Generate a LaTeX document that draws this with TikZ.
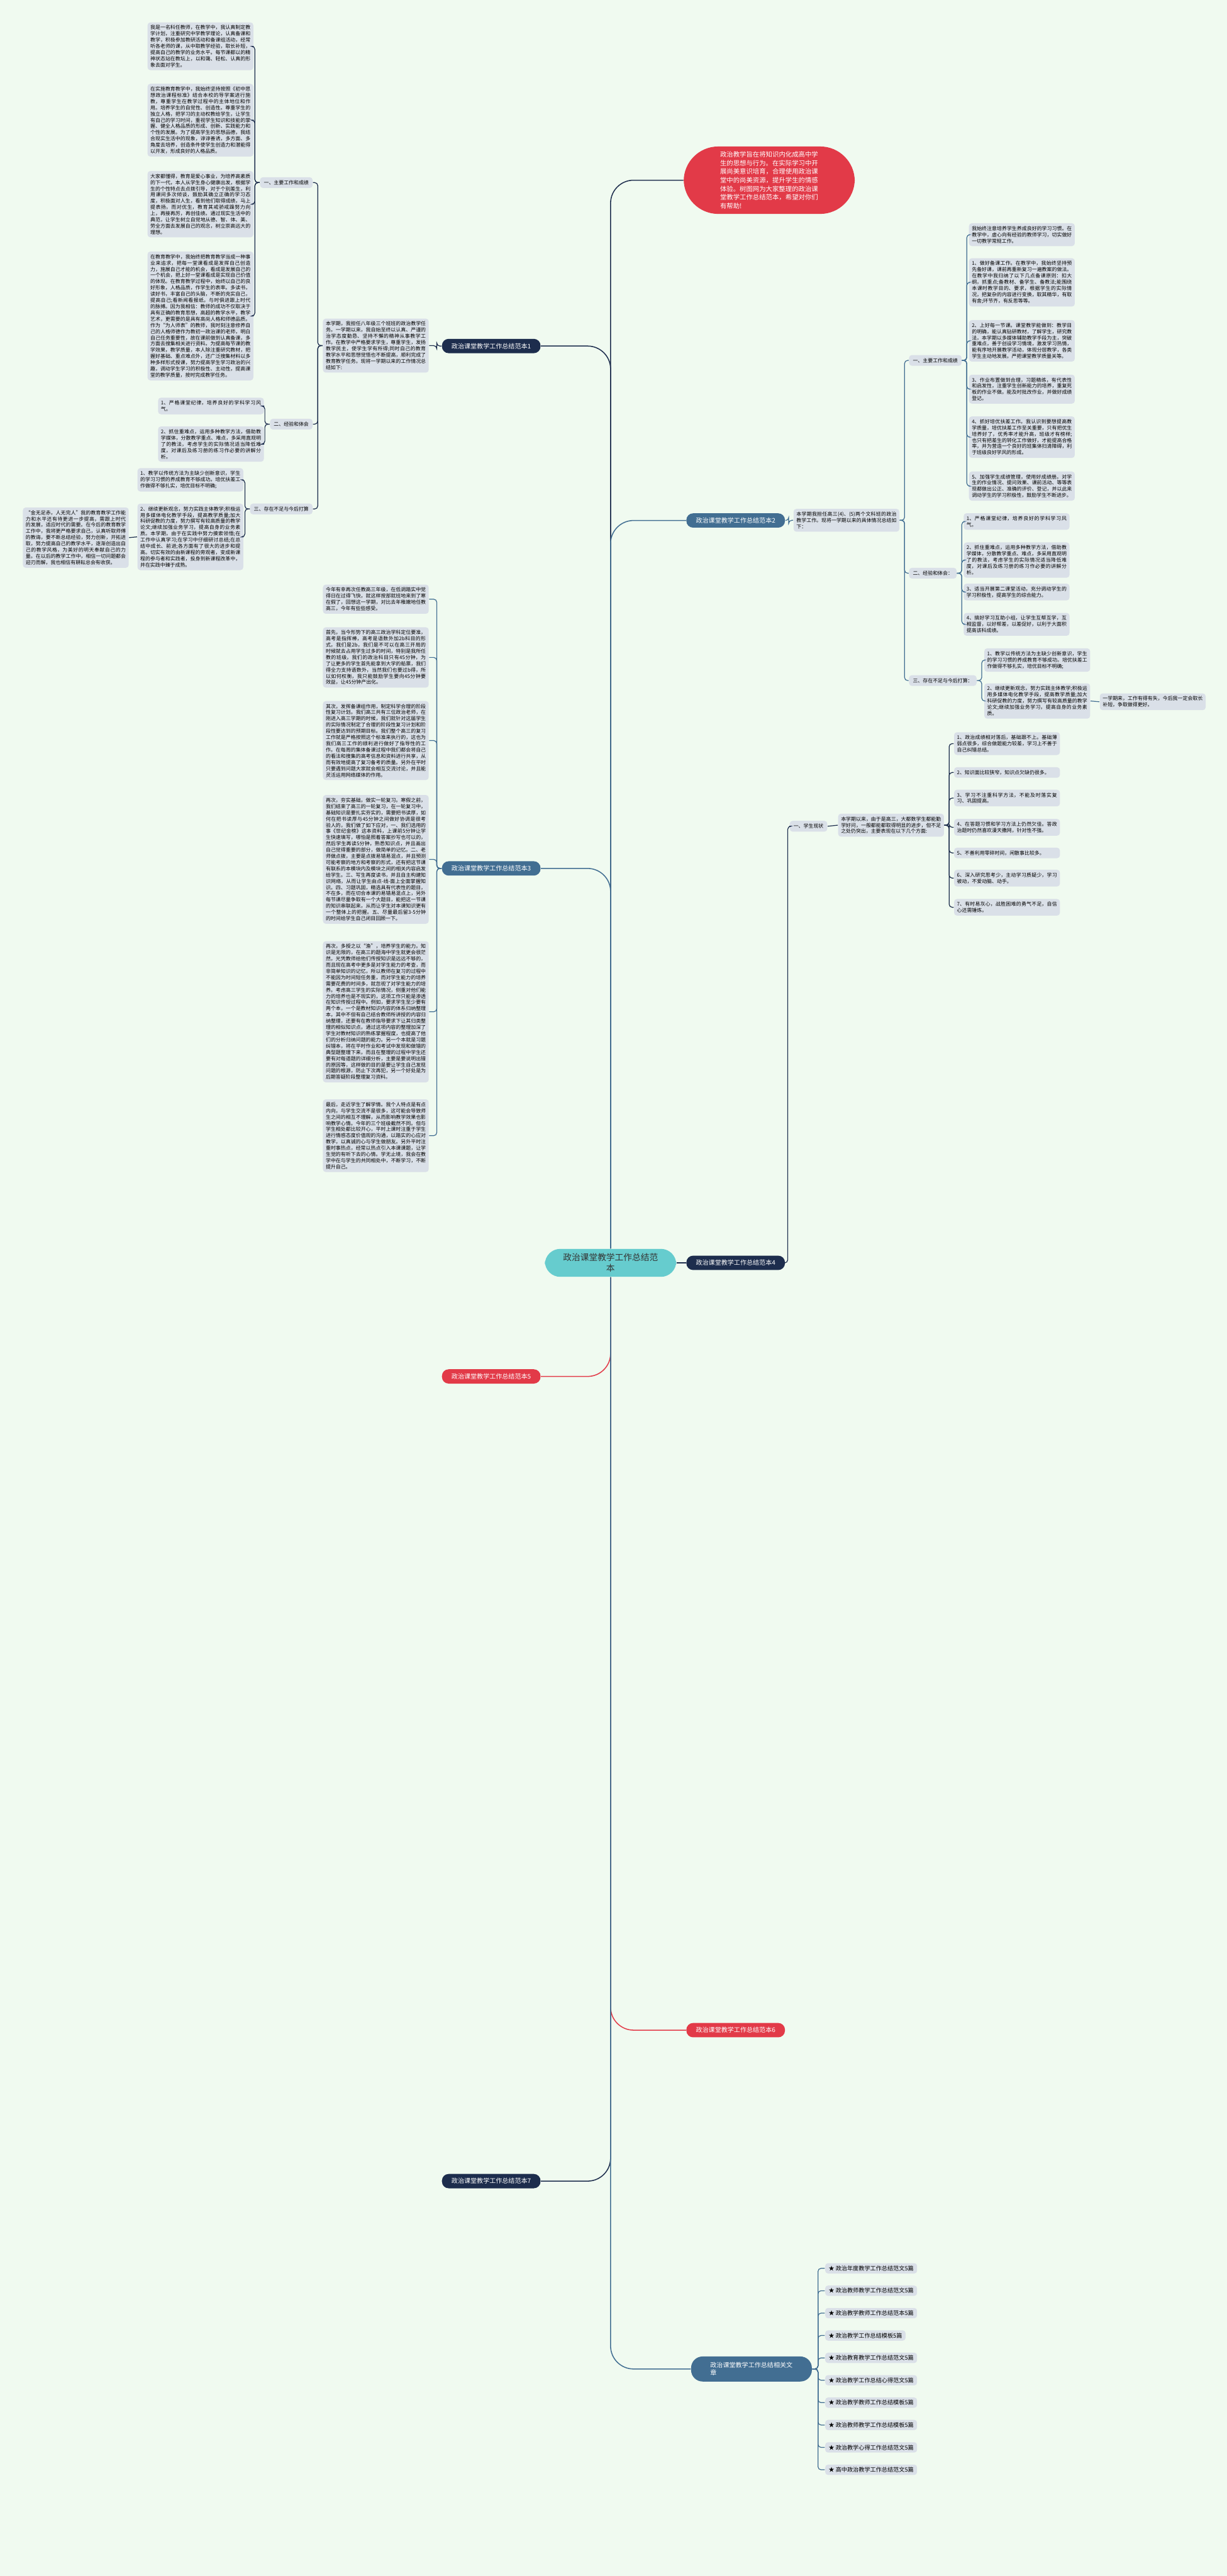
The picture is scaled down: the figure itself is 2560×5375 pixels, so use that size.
\documentclass[tikz,border=0pt]{standalone}
\usepackage{fontspec}
\setmainfont{Noto Sans CJK SC}
\XeTeXlinebreaklocale "zh"
\XeTeXlinebreakskip=0pt plus 0.4pt
\definecolor{PageGreen}{RGB}{240,250,240}
\definecolor{LeafGray}{RGB}{218,224,232}
\definecolor{NavyDark}{RGB}{29,45,77}
\definecolor{SteelBlue}{RGB}{66,110,146}
\definecolor{TealCore}{RGB}{102,204,206}
\definecolor{TitleRed}{RGB}{226,58,72}
\definecolor{PinkLeaf}{RGB}{250,216,220}

\tikzset{
  leaf/.style={anchor=north west, fill=LeafGray, rounded corners=1.5pt, inner xsep=1.5pt, inner ysep=1.5pt,
    text width=52.2pt, align=justify, font=\fontsize{2.6pt}{3.25pt}\selectfont},
  subnode/.style={fill=LeafGray, rounded corners=1.5pt, inner xsep=2pt, inner ysep=1.6pt,
    font=\fontsize{2.6pt}{3.25pt}\selectfont},
  branch/.style={fill=NavyDark, text=white, rounded corners=3.5pt, inner xsep=5pt, inner ysep=2.2pt,
    font=\fontsize{3.3pt}{4pt}\selectfont},
  link/.style={draw=NavyDark, line width=0.4pt, rounded corners=1.6pt},
  trunk/.style={line width=0.5pt, rounded corners=12pt}
}

\begin{document}
\begin{tikzpicture}[x=0.25pt, y=-0.25pt]
  \fill[PageGreen] (0,0) rectangle (2560,5375);
  \useasboundingbox (0,0) rectangle (2560,5375);

  % centre and intro
  \node[fill=TealCore, rounded corners=8pt, inner xsep=9.5pt, inner ysep=2.4pt, align=center,
    font=\fontsize{4.5pt}{5.6pt}\selectfont, text=black!80] (ctr) at (1274,2635) {政治课堂教学工作总结范\\本};
  \node[fill=TitleRed, text=white, rounded corners=18pt, inner xsep=19pt, inner ysep=2.5pt,
    text width=51.2pt, align=left, font=\fontsize{3.4pt}{4.5pt}\selectfont] (intro) at (1605,376)
    {政治教学旨在将知识内化成高中学生的思想与行为。在实际学习中开展尚美意识培育，合理使用政治课堂中的尚美资源，提升学生的情感体验。树图网为大家整理的政治课堂教学工作总结范本，希望对你们有帮助!};

  % branches
  \node[branch] (b1) at (1025,722) {政治课堂教学工作总结范本1};
  \node[branch, fill=SteelBlue] (b2) at (1535,1086) {政治课堂教学工作总结范本2};
  \node[branch, fill=SteelBlue] (b3) at (1025,1812) {政治课堂教学工作总结范本3};
  \node[branch] (b4) at (1535,2635) {政治课堂教学工作总结范本4};
  \node[branch, fill=TitleRed] (b5) at (1025,2872) {政治课堂教学工作总结范本5};
  \node[branch, fill=TitleRed] (b6) at (1535,4236) {政治课堂教学工作总结范本6};
  \node[branch] (b7) at (1025,4551) {政治课堂教学工作总结范本7};
  \node[branch, fill=SteelBlue, rounded corners=6pt, inner xsep=10pt, inner ysep=3pt, text width=43pt, align=left]
    (brel) at (1568,4943) {政治课堂教学工作总结相关文章};

  \draw[trunk, NavyDark] (ctr.north) |- (intro.west);
  \draw[trunk, NavyDark] (ctr.north) |- (b1.east);
  \draw[trunk, SteelBlue] (ctr.north) |- (b2.west);
  \draw[trunk, SteelBlue] (ctr.north) |- (b3.east);
  \draw[trunk, NavyDark] (ctr.east) -- (b4.west);
  \draw[trunk, TitleRed] (ctr.south) |- (b5.east);
  \draw[trunk, TitleRed] (ctr.south) |- (b6.west);
  \draw[trunk, NavyDark] (ctr.south) |- (b7.east);
  \draw[trunk, SteelBlue] (ctr.south) |- (brel.west);

  % 范本1
  \node[leaf] (m1) at (673,664) {本学期，我担任八年级三个班班的政治教学任务。一学期以来，我自始至终以认真、严谨的治学态度勤恳、坚持不懈的精神从事教学工作。在教学中严格要求学生，尊重学生，发扬教学民主，使学生学有所得;同时自己的教育教学水平和思想觉悟也不断提高，顺利完成了教育教学任务。现将一学期以来的工作情况总结如下:};
  \node[subnode, anchor=east] (s11) at (653,381) {一、主要工作和成绩};
  \node[subnode, anchor=east] (s12) at (653,885) {二、经验和体会};
  \node[subnode, anchor=east] (s13) at (653,1062) {三、存在不足与今后打算};
  \node[leaf] (l1a) at (307,46) {我是一名科任教师，在教学中，我认真制定教学计划，注重研究中学教学理论，认真备课和教学，积极参加教研活动和备课组活动，经常听各老师的课，从中取教学经验，取长补短，提高自己的教学的业务水平。每节课都以的精神状态站在教坛上，以和蔼、轻松、认真的形象去面对学生。};
  \node[leaf] (l1b) at (307,174) {在实施教育教学中，我始终坚持按照《初中思想政治课程标准》结合本校的导学案进行施教，尊重学生在教学过程中的主体地位和作用。培养学生的自觉性、创造性。尊重学生的独立人格，把学习的主动权教给学生，让学生有自己的学习时间，重视学生知识和技能的掌握、健全人格品质的形成、创新、实践能力和个性的发展。为了提高学生的思想品德，我结合现实生活中的现象，谆谆善诱，多方面、多角度去培养，创造条件使学生创造力和潜能得以开发，形成良好的人格品质。};
  \node[leaf] (l1c) at (307,356) {大家都懂得，教育是爱心事业，为培养高素质的下一代，本人从学生身心健康出发，根据学生的个性特点去点拨引导，对于个别差生，利用课间多次倾谈，鼓励其确立正确的学习态度，积极面对人生，看到他们取得成绩，马上提表扬，而对优生，教育其戒骄戒躁努力向上，再接再厉，再创佳绩。通过现实生活中的典范，让学生树立自觉地从德、智、体、美、劳全方面去发展自己的观念，树立崇高远大的理想。};
  \node[leaf] (l1d) at (307,524) {在教育教学中，我始终把教育教学当成一种事业来追求，把每一堂课看成是发挥自己创造力，施展自己才能的机会，看成是发展自己的一个机会，把上好一堂课看成是实现自己价值的体现。在教育教学过程中，始终以自己的良好形象，人格品质，作学生的表率。多读书，读好书，丰富自己的头脑，不断的充实自己，提高自己;看新闻看报纸，与时俱进跟上时代的脉搏。因为我相信：教师的成功不仅取决于具有正确的教育思想，高超的教学水平，教学艺术，更需要的是具有高尚人格和师德品质。作为“为人师表”的教师，我时刻注意修养自己的人格师德作为教初一政治课的老师，明白自己任务重要性，故在课前做到认真备课，多方面去搜集相关进行资料。为提高每节课的教学效果，教学质量，本人除注重研究教材，把握好基础、重点难点外，还广泛搜集材料以多种多样形式授课，努力提高学生学习政治的兴趣，调动学生学习的积极性、主动性，提高课堂的教学质量，按时完成教学任务。};
  \node[leaf] (l1e) at (329,829) {1、严格课堂纪律，培养良好的学科学习风气。};
  \node[leaf] (l1f) at (329,889) {2、抓住重难点，运用多种教学方法，借助教学媒体，分散教学重点、难点，多采用直观明了的教法，考虑学生的实际情况适当降低难度，对课后及练习册的练习作必要的讲解分析。};
  \node[leaf] (l1g) at (286,976) {1、教学以传统方法为主缺少创新意识，学生的学习习惯的养成教育不够成功。培优扶差工作做得不够扎实，培优目标不明确;};
  \node[leaf] (l1h) at (286,1050) {2、继续更新观念，努力实践主体教学;积极运用多媒体电化教学手段，提高教学质量;加大科研促教的力度，努力撰写有较高质量的教学论文;继续加强业务学习，提高自身的业务素质。本学期，由于在实践中努力摸索领悟;在工作中认真学习;在学习中仔细研讨总结;在总结中成长、前进;各方面有了很大的进步和提高。切实有效的由新课程的旁观者，变成新课程的参与者和实践者，投身到新课程改革中，并在实践中臻于成熟。};
  \node[leaf] (l1i) at (47,1058) {“金无足赤，人无完人”我的教育教学工作能力和水平还有待更进一步提高，需跟上时代的发展，适应时代的需要。在今后的教育教学工作中，我将更严格要求自己，认真听取师傅的教诲，要不断总结经验，努力创新，开拓进取，努力提高自己的教学水平，逐渐创造出自己的教学风格，为美好的明天奉献自己的力量。在以后的教学工作中，相信一切问题都会迎刃而解，我也相信有耕耘总会有收获。};
  \draw[link] (b1.west) -- ++(-10,0) |- (m1.east);
  \foreach \c in {s11,s12,s13} \draw[link] (m1.west) -- ++(-10,0) |- (\c.east);
  \foreach \c in {l1a,l1b,l1c,l1d} \draw[link] (s11.west) -- ++(-10,0) |- (\c.east);
  \foreach \c in {l1e,l1f} \draw[link] (s12.west) -- ++(-10,0) |- (\c.east);
  \foreach \c in {l1g,l1h} \draw[link] (s13.west) -- ++(-10,0) |- (\c.east);
  \draw[link] (l1h.west) -- (l1i.east);

  % 范本2
  \node[leaf] (m2) at (1655,1061) {本学期我担任高三(4)、(5)两个文科班的政治教学工作。现将一学期以来的具体情况总结如下：};
  \node[subnode, anchor=west] (s21) at (1896,752) {一、主要工作和成绩};
  \node[subnode, anchor=west] (s22) at (1896,1196) {二、经验和体会：};
  \node[subnode, anchor=west] (s23) at (1896,1420) {三、存在不足与今后打算：};
  \node[leaf] (l2a) at (2021,465) {我始终注意培养学生养成良好的学习习惯。在教学中，虚心向有经验的教师学习，切实做好一切教学常规工作。};
  \node[leaf] (l2b) at (2021,538) {1、做好备课工作。在教学中，我始终坚持预先备好课，课前再重新复习一遍教案的做法。在教学中我归纳了以下几点备课原则：扣大纲，抓重点;备教材、备学生、备教法;能围绕本课时教学目的、要求，根据学生的实际情况，把复杂的内容进行变换，取其精华，有取有舍;环节齐，有反思等等。};
  \node[leaf] (l2c) at (2021,667) {2、上好每一节课。课堂教学能做到：教学目的明确，能认真钻研教材，了解学生，研究教法，本学期以多媒体辅助教学手段为主，突破重难点，善于创设学习情境，激发学习热情，能有序地开展教学活动，体现分层教学，各类学生主动地发展。严把课堂教学质量关等。};
  \node[leaf] (l2d) at (2021,781) {3、作业布置做到合理，习题精练，有代表性和启发性，注重学生创新能力的培养，重复死板的作业不做。能及时批改作业，并做好成绩登记。};
  \node[leaf] (l2e) at (2021,868) {4、抓好培优扶差工作。我认识到要想提高教学质量，培优扶差工作至关重要，只有把优生培养好了，优秀率才能升高，班级才有榜样;也只有把差生的转化工作做好，才能提高合格率，并为营造一个良好的班集体扫清障碍，利于班级良好学风的形成。};
  \node[leaf] (l2f) at (2021,983) {5、加强学生成绩管理，使用好成绩册。对学生的作业情况、提问效果、课前活动、等等表现都做出公正、准确的评价、登记，并以此来调动学生的学习积极性，鼓励学生不断进步。};
  \node[leaf] (l2g) at (2010,1070) {1、严格课堂纪律，培养良好的学科学习风气。};
  \node[leaf] (l2h) at (2010,1131) {2、抓住重难点，运用多种教学方法，借助教学媒体，分散教学重点、难点，多采用直观明了的教法，考虑学生的实际情况适当降低难度，对课后及练习册的练习作必要的讲解分析。};
  \node[leaf] (l2i) at (2010,1217) {3、适当开展第二课堂活动，充分调动学生的学习积极性，提高学生的综合能力。};
  \node[leaf] (l2j) at (2010,1278) {4、搞好学习互助小组，让学生互帮互学，互相监督，以好帮差，以差促好，以利于大面积提高该科成绩。};
  \node[leaf] (l2k) at (2053,1352) {1、教学以传统方法为主缺少创新意识，学生的学习习惯的养成教育不够成功。培优扶差工作做得不够扎实，培优目标不明确;};
  \node[leaf] (l2l) at (2053,1425) {2、继续更新观念，努力实践主体教学;积极运用多媒体电化教学手段，提高教学质量;加大科研促教的力度，努力撰写有较高质量的教学论文;继续加强业务学习，提高自身的业务素质。};
  \node[leaf] (l2m) at (2294,1446) {一学期来，工作有得有失，今后我一定会取长补短，争取做得更好。};
  \draw[link, SteelBlue] (b2.east) -- ++(7,0) |- (m2.west);
  \foreach \c in {s21,s22,s23} \draw[link, SteelBlue] (m2.east) -- ++(10,0) |- (\c.west);
  \foreach \c in {l2a,l2b,l2c,l2d,l2e,l2f} \draw[link, SteelBlue] (s21.east) -- ++(10,0) |- (\c.west);
  \foreach \c in {l2g,l2h,l2i,l2j} \draw[link, SteelBlue] (s22.east) -- ++(10,0) |- (\c.west);
  \foreach \c in {l2k,l2l} \draw[link, SteelBlue] (s23.east) -- ++(10,0) |- (\c.west);
  \draw[link, SteelBlue] (l2l.east) -- (l2m.west);

  % 范本3
  \node[leaf] (l3a) at (673,1219) {今年有幸再次任教高三年级，在低调踏实中觉得日在过得飞快，就这样按部就班地来到了寒在假了，回想这一学期，对比去年稚嫩地任教高三，今年有些些感受。};
  \node[leaf] (l3b) at (673,1308) {首先，当今形势下的高三政治学科定位要准，高考是指挥棒，高考是语数外加2b科目的形式，我们是2b，我们是不可以在高三开局的时候就去占用学生过多的时间，特别是我所任教的班级，我们的政治科目只有45分钟，为了让更多的学生首先能拿到大学的船票，我们得全力支持语数外，当然我们也要过b得，所以如何权衡，我只能鼓励学生要向45分钟要效益，让45分钟产出化。};
  \node[leaf] (l3c) at (673,1462) {其次，发挥备课组作用，制定科学合理的阶段性复习计划。我们高三共有三位政治老师，在刚进入高三学期的时候，我们就针对这届学生的实际情况制定了合理的阶段性复习计划和阶段性要达到的预期目标。我们整个高三的复习工作就是严格按照这个标准来执行的，这也为我们高三工作的顺利进行做好了指导性的工作。在每周的集体备课过程中我们都会将自己的看法和搜集的高考信息和资料进行共享，从而有效地提高了复习备考的质量。另外在平时只要遇到问题大家就会相互交流讨论，并且能灵活运用网络媒体的作用。};
  \node[leaf] (l3d) at (673,1658) {再次，夯实基础，做实一轮复习。寒假之前，我们结束了高三的一轮复习，在一轮复习中，基础知识是要扎实夯实的，需要把书读厚，如何在把书读厚与45分钟之间做好协调是很考验人的，我们做了如下应对，一、我们选用的事《世纪金榜》这本资料，上课前5分钟让学生快速填写，哪怕是照着答案抄写也可以的，然后学生再读5分钟，熟悉知识点，并且画出自己觉得重要的部分，做简单的记忆。二、老师做点拨，主要是点拨易错易混点，并且预测可能考察的地方和考察的形式，还有把这节课有联系的本模块内及模块之间的相关内容启发给学生。三、写生再度读书，并且自主构建知识网络，从而让学生由点-线-面上全面掌握知识。四、习题巩固，精选具有代表性的题目，不在多，而在切合本课的易错易混点上，另外每节课尽量争取有一个大题目，能把这一节课的知识串联起来，从而让学生对本课知识更有一个整体上的把握。五、尽量最后留3-5分钟的时间给学生自己闭目回顾一下。};
  \node[leaf] (l3e) at (673,1963) {再次，多授之以“渔”，培养学生的能力。知识是无限的，在高三的题海中学生就更会很茫然，光凭教师给他们传授知识是远远不够的，而且现在高考中更多是对学生能力的考查，而非简单知识的记忆，所以教师在复习的过程中不能因为时间短任务重，而对学生能力的培养需要花费的时间多，就忽视了对学生能力的培养。考虑高三学生的实际情况，侧重对他们能力的培养也是不现实的，这项工作只能是渗透在知识传授过程中。例如，要求学生至少要有两个本，一个是教材知识内容的体系归纳整理本，其中不但有自己结合教师所讲授的内容归纳整理，还要有在教师指导要求下让其归类整理的相似知识点，通过这项内容的整理加深了学生对教材知识的熟练掌握程度，也提高了他们的分析归纳问题的能力。另一个本就是习题纠错本，将在平时作业和考试中发现和做错的典型题整理下来，而且在整理的过程中学生还要有对每道题的详细分析，主要是要说明出错的原因等，这样做的目的是要让学生自己发现问题的根源，防止下次再犯，另一个好处是为后期答疑阶段整理复习资料。};
  \node[leaf] (l3f) at (673,2293) {最后，走近学生了解学情。我个人特点是有点内向，与学生交流不是很多，这可能会导致师生之间的相互不理解，从而影响教学效果也影响教学心情。今年的三个班级截然不同。但与学生相处都比较开心，平时上课时注重于学生进行情感态度价值观的沟通，以踏实的心应对教学，以真诚的心与学生做朋友。另外平时注重时事热点，经常以热点引入本课课题，让学生觉的有听下去的心情。学无止境，我会在教学中在与学生的共同相处中，不断学习，不断提升自己。};
  \foreach \c in {l3a,l3b,l3c,l3d,l3e,l3f} \draw[link, SteelBlue] (b3.west) -- ++(-10,0) |- (\c.east);

  % 范本4
  \node[subnode, anchor=east] (s41) at (1727,1724) {一、学生现状};
  \node[leaf] (m41) at (1748,1697) {本学期以来，由于是高三，大都数学生都能勤学好问，一般都能都取得明显的进步，但不足之处仍突出，主要表现在以下几个方面:};
  \node[leaf] (l4a) at (1990,1527) {1、政治成绩相对落后，基础跟不上。基础薄弱点很多，综合做题能力较差，学习上不善于自己纠错总结。};
  \node[leaf] (l4b) at (1990,1600) {2、知识面比较狭窄，知识点欠缺仍很多。};
  \node[leaf] (l4c) at (1990,1647) {3、学习不注重科学方法，不能及时落实复习、巩固提高。};
  \node[leaf] (l4d) at (1990,1708) {4、在答题习惯和学习方法上仍然欠佳。答政治题时仍然喜欢漫天撒网，针对性不强。};
  \node[leaf] (l4e) at (1990,1768) {5、不善利用零碎时间，闲散事比较多。};
  \node[leaf] (l4f) at (1990,1814) {6、深入研究思考少，主动学习质疑少，学习被动，不爱动脑、动手。};
  \node[leaf] (l4g) at (1990,1875) {7、有时易灰心，战胜困难的勇气不足，自信心还需锤炼。};
  \draw[link] (b4.east) -- ++(5,0) |- (s41.west);
  \draw[link] (s41.east) -- (m41.west);
  \foreach \c in {l4a,l4b,l4c,l4d,l4e,l4f,l4g} \draw[link] (m41.east) -- ++(10,0) |- (\c.west);

  % related articles
  \foreach \t [count=\i from 0] in {政治年度教学工作总结范文5篇, 政治教师教学工作总结范文5篇, 政治教学教师工作总结范本5篇,
      政治教学工作总结模板5篇, 政治教育教学工作总结范文5篇, 政治教学工作总结心得范文5篇, 政治教学教师工作总结模板5篇,
      政治教师教学工作总结模板5篇, 政治教学心得工作总结范文5篇, 高中政治教学工作总结范文5篇} {
    \node[fill=LeafGray, rounded corners=1.5pt, anchor=west, inner xsep=1.8pt, inner ysep=1.3pt,
      font=\fontsize{3pt}{3.6pt}\selectfont] (r\i) at (1721,{4733+46.7*\i}) {★ \t};
    \draw[link, SteelBlue] (brel.east) -- ++(12,0) |- (r\i.west);
  }
\end{tikzpicture}
\end{document}
